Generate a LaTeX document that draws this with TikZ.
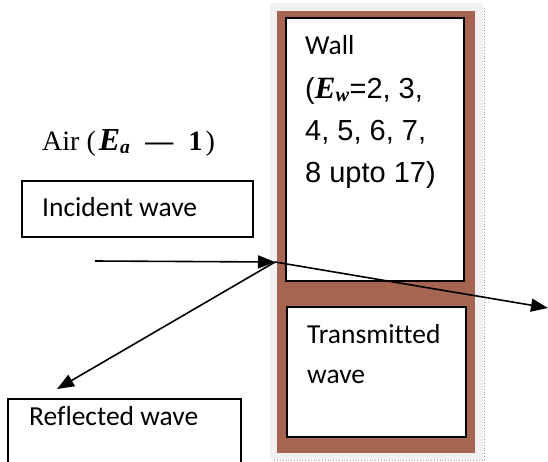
\documentclass[tikz,border=0pt]{standalone}
\usepackage{fontspec}
\setmainfont{Liberation Serif}
\newfontfamily\calib[Ligatures=CommonOff]{Carlito}
\newfontfamily\arialf{Liberation Sans}
\newfontfamily\timesf{Liberation Serif}
\usetikzlibrary{arrows.meta}
\definecolor{wallbrown}{RGB}{166,101,80}
\definecolor{bggray}{RGB}{241,241,241}
\definecolor{dotgray}{RGB}{170,150,145}
\newcommand{\bfE}{{\timesf\bfseries\itshape E}}
\begin{document}
\begin{tikzpicture}[x=1pt,y=-1pt,
  box/.style={draw=black, line width=1.8pt, fill=white, anchor=north west, inner sep=0pt, outer sep=0pt},
  lbl/.style={anchor=base west, inner sep=0pt, font=\calib\fontsize{27.5}{32}\selectfont},
  wtxt/.style={anchor=base west, inner sep=0pt, font=\arialf\fontsize{29}{32}\selectfont},
  ray/.style={line width=1.6pt, -{Triangle[length=17pt,width=13pt]}}]
\useasboundingbox (0,0) rectangle (548,461);
% wall
\fill[bggray] (270,3) rectangle (483,460);
\draw[dotgray, dotted, line width=0.8pt] (484,8) -- (484,460) -- (273,460);
\fill[wallbrown] (277,11) rectangle (475,453);
\node[box, minimum width=178pt, minimum height=263pt] (wallbox) at (286,18) {};
\node[box, minimum width=179pt, minimum height=130pt] (transbox) at (287,307) {};
% wall texts
\node[lbl] (wall) at (305,54) {Wall};
\node[wtxt] (ew1) at (305,98) {({\fontsize{31}{32}\selectfont\bfE}\textsubscript{\bfseries\itshape\timesf w}=2, 3,};
\node[wtxt] (ew2) at (305,140) {4, 5, 6, 7,};
\node[wtxt] (ew3) at (305,182) {8 upto 17)};
\node[lbl] (trans1) at (307,343) {Transmitted};
\node[lbl] (trans2) at (307,383) {wave};
% air label
\node[anchor=base west, inner sep=0pt, font=\fontsize{28}{32}\selectfont] (air) at (42,150)
  {Air (\hspace{3pt}{\fontsize{32}{32}\selectfont\bfE}\textsubscript{\timesf\bfseries\itshape a}\hspace{15pt}\textbf{—}\hspace{15pt}\textbf{1}\hspace{3pt})};
% incident / reflected boxes
\node[box, minimum width=231pt, minimum height=56pt] (incbox) at (22,181) {};
\node[lbl] (inctxt) at (42,216) {Incident wave};
\node[box, minimum width=233pt, minimum height=70pt] (refbox) at (8,399) {};
\node[lbl] (reftxt) at (29,425) {Reflected wave};
% rays
\coordinate (hit) at (275,262);
\coordinate (src) at (95,261);
\coordinate (refend) at (57,389);
\coordinate (transend) at (548,308);
\draw[ray] (src) -- (hit);
\draw[ray] (hit) -- (refend);
\draw[ray] (hit) -- (transend);
\end{tikzpicture}
\end{document}
